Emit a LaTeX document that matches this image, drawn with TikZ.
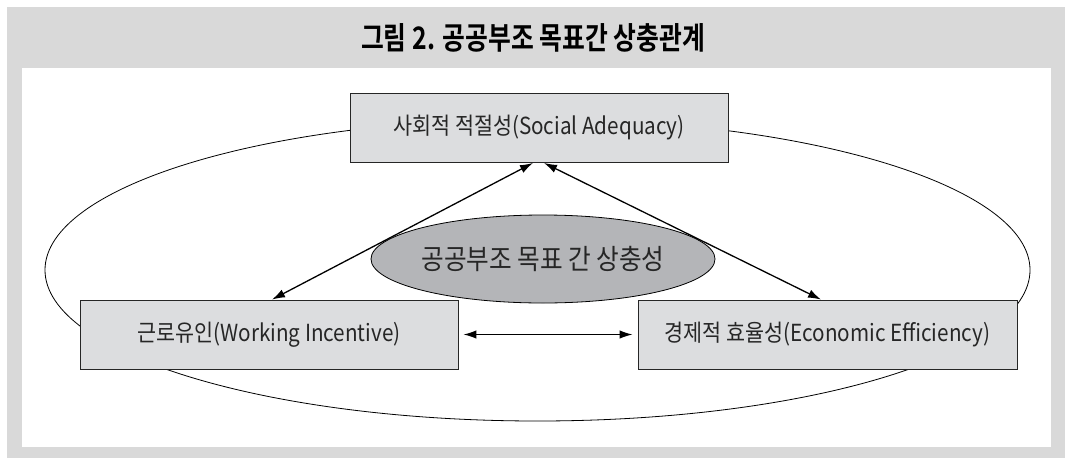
\documentclass[tikz,border=0pt]{standalone}
\usepackage{fontspec}
\usetikzlibrary{arrows.meta,shapes.geometric,positioning}
\newfontfamily\krfont[FakeStretch=0.88]{Noto Sans CJK KR}
\newfontfamily\krtitle[FakeStretch=0.8]{Noto Sans CJK KR Bold}
\definecolor{panelgray}{RGB}{217,217,217}
\definecolor{boxgray}{RGB}{220,221,223}
\definecolor{ovalgray}{RGB}{180,181,184}

\begin{document}
\begin{tikzpicture}[x=1pt,y=-1pt,
	goalbox/.style={draw=black!85, fill=boxgray, line width=0.9pt, minimum width=378pt, minimum height=69pt, inner sep=0pt, text=black!85, font=\krfont\fontsize{23.5}{27}\selectfont},
	twoway/.style={{Latex[length=13pt,width=8.5pt]}-{Latex[length=13pt,width=8.5pt]}, line width=1.3pt}]
		\useasboundingbox (0,0) rectangle (1065,458);
		\fill [panelgray] (7,7) rectangle (1065,458);
		\fill [white] (22,68) rectangle (1051,447);
		\node [font=\krtitle\fontsize{31}{35}\selectfont](title) at (533,38) {그림 2. 공공부조 목표간 상충관계};
		% outer ring behind the three boxes
		\node [draw, ellipse, line width=0.8pt, minimum width=985pt, minimum height=302pt, inner sep=0pt](ring) at (537.5,270) {};
		\node [goalbox](adequacy) at (539,128) {사회적 적절성(Social Adequacy)};
		\node [goalbox](incentive) at (269,334.5) {근로유인(Working Incentive)};
		\node [goalbox, minimum width=379pt](efficiency) at (827.5,334.5) {경제적 효율성(Economic Efficiency)};
		\node [draw, ellipse, fill=ovalgray, line width=0.8pt, minimum width=322pt, minimum height=88pt, inner sep=0pt, text=black!85, font=\krfont\fontsize{28}{31}\selectfont](conflict) at (543,259) {공공부조 목표 간 상충성};
		\draw [twoway] ([xshift=-6pt]adequacy.south) -- ([xshift=3pt]incentive.north);
		\draw [twoway] ([xshift=5pt]adequacy.south) -- ([xshift=-6.5pt]efficiency.north);
		\draw [twoway] ([xshift=5pt]incentive.east) -- ([xshift=-5pt]efficiency.west);
\end{tikzpicture}
\end{document}
